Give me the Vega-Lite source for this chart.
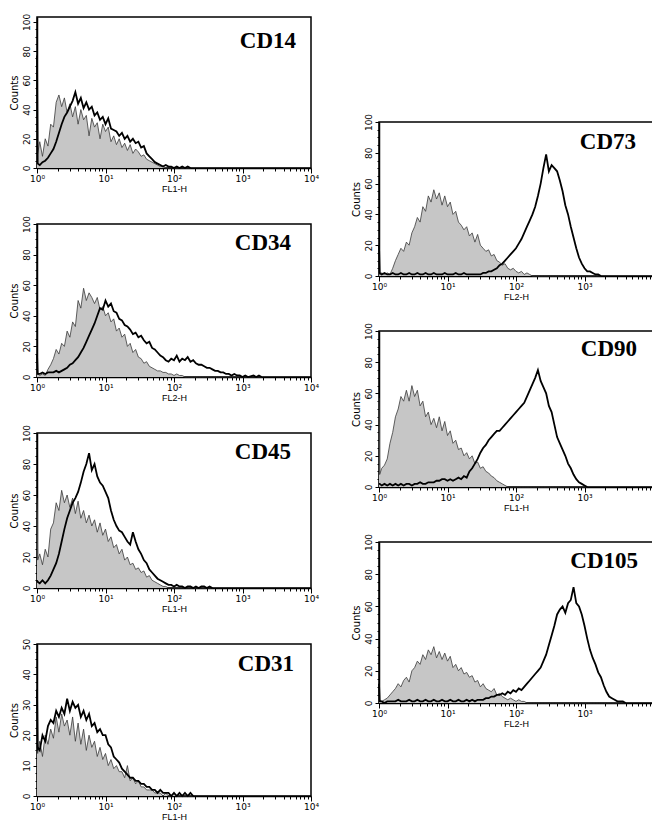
{
  "$schema": "https://vega.github.io/schema/vega-lite/v6.json",
  "padding": {"left": 8, "top": 12, "right": 0, "bottom": 0},
  "background": "white",
  "config": {
    "view": {"stroke": "black", "strokeWidth": 1.5},
    "axis": {"grid": false, "domainColor": "black", "domainWidth": 1.5, "tickColor": "black", "tickWidth": 1, "labelColor": "black", "titleColor": "black", "labelOverlap": false, "labelFlush": false, "titleFontWeight": "normal"},
    "axisX": {"labelFont": "DejaVu Sans", "labelFontSize": 9, "labelPadding": 1, "titleFont": "Liberation Sans", "titleFontSize": 9, "titlePadding": 1},
    "axisY": {"labelFont": "DejaVu Sans", "labelFontSize": 9, "labelAngle": -90, "labelPadding": 2, "titleFont": "DejaVu Sans", "titleFontSize": 10, "titlePadding": 3},
    "title": {"font": "Liberation Serif", "fontSize": 23, "fontWeight": "bold", "color": "black", "anchor": "end", "frame": "group", "baseline": "alphabetic", "offset": -40}
  },
  "datasets": {
    "cd14": [{"d":0,"c":12,"t":77},{"d":0.01,"c":10,"t":3},{"d":0.04,"c":18,"t":2},{"d":0.08,"c":8,"t":4},{"d":0.12,"c":20,"t":5},{"d":0.16,"c":15,"t":7},{"d":0.2,"c":30,"t":10},{"d":0.24,"c":28,"t":13},{"d":0.28,"c":45,"t":18},{"d":0.32,"c":50,"t":24},{"d":0.36,"c":42,"t":30},{"d":0.4,"c":48,"t":35},{"d":0.44,"c":38,"t":38},{"d":0.48,"c":44,"t":42},{"d":0.52,"c":35,"t":46},{"d":0.56,"c":42,"t":52},{"d":0.6,"c":30,"t":44},{"d":0.64,"c":40,"t":48},{"d":0.68,"c":33,"t":41},{"d":0.72,"c":36,"t":45},{"d":0.76,"c":22,"t":40},{"d":0.8,"c":34,"t":42},{"d":0.84,"c":28,"t":36},{"d":0.88,"c":31,"t":38},{"d":0.92,"c":20,"t":33},{"d":0.96,"c":30,"t":35},{"d":1,"c":25,"t":30},{"d":1.04,"c":28,"t":34},{"d":1.08,"c":18,"t":27},{"d":1.12,"c":22,"t":26},{"d":1.16,"c":16,"t":25},{"d":1.2,"c":20,"t":22},{"d":1.24,"c":14,"t":24},{"d":1.28,"c":17,"t":20},{"d":1.32,"c":12,"t":22},{"d":1.36,"c":16,"t":18},{"d":1.4,"c":10,"t":20},{"d":1.44,"c":13,"t":17},{"d":1.48,"c":11,"t":18},{"d":1.52,"c":8,"t":14},{"d":1.56,"c":9,"t":15},{"d":1.6,"c":6,"t":10},{"d":1.64,"c":5,"t":8},{"d":1.68,"c":4,"t":6},{"d":1.72,"c":3,"t":4},{"d":1.76,"c":2,"t":3},{"d":1.8,"c":1,"t":2},{"d":1.84,"c":1,"t":1},{"d":1.88,"c":0,"t":2},{"d":1.92,"c":0,"t":1},{"d":1.96,"c":0,"t":1},{"d":2,"c":0,"t":0},{"d":2.04,"c":0,"t":1},{"d":2.08,"c":0,"t":0},{"d":2.12,"c":0,"t":1},{"d":2.16,"c":0,"t":0},{"d":2.2,"c":0,"t":1},{"d":2.24,"c":0,"t":0}],
    "cd34": [{"d":0,"c":2,"t":15},{"d":0.01,"c":2,"t":2},{"d":0.04,"c":1,"t":2},{"d":0.08,"c":2,"t":3},{"d":0.12,"c":1,"t":2},{"d":0.16,"c":5,"t":3},{"d":0.2,"c":8,"t":3},{"d":0.24,"c":12,"t":3},{"d":0.28,"c":18,"t":4},{"d":0.32,"c":15,"t":3},{"d":0.36,"c":22,"t":4},{"d":0.4,"c":20,"t":5},{"d":0.44,"c":30,"t":6},{"d":0.48,"c":26,"t":8},{"d":0.52,"c":36,"t":9},{"d":0.56,"c":33,"t":11},{"d":0.6,"c":50,"t":13},{"d":0.64,"c":45,"t":16},{"d":0.68,"c":58,"t":19},{"d":0.72,"c":50,"t":23},{"d":0.76,"c":55,"t":27},{"d":0.8,"c":52,"t":31},{"d":0.84,"c":48,"t":35},{"d":0.88,"c":52,"t":40},{"d":0.92,"c":44,"t":45},{"d":0.96,"c":46,"t":44},{"d":1,"c":40,"t":50},{"d":1.04,"c":42,"t":46},{"d":1.08,"c":36,"t":48},{"d":1.12,"c":38,"t":43},{"d":1.16,"c":30,"t":42},{"d":1.2,"c":32,"t":38},{"d":1.24,"c":26,"t":37},{"d":1.28,"c":28,"t":34},{"d":1.32,"c":20,"t":33},{"d":1.36,"c":22,"t":31},{"d":1.4,"c":16,"t":28},{"d":1.44,"c":18,"t":29},{"d":1.48,"c":13,"t":26},{"d":1.52,"c":12,"t":27},{"d":1.56,"c":9,"t":24},{"d":1.6,"c":10,"t":22},{"d":1.64,"c":7,"t":23},{"d":1.68,"c":6,"t":19},{"d":1.72,"c":5,"t":18},{"d":1.76,"c":4,"t":16},{"d":1.8,"c":4,"t":14},{"d":1.84,"c":3,"t":13},{"d":1.88,"c":3,"t":11},{"d":1.92,"c":2,"t":10},{"d":1.96,"c":2,"t":12},{"d":2,"c":1,"t":11},{"d":2.04,"c":2,"t":14},{"d":2.08,"c":1,"t":10},{"d":2.12,"c":1,"t":12},{"d":2.16,"c":0,"t":11},{"d":2.2,"c":0,"t":13},{"d":2.24,"c":0,"t":10},{"d":2.28,"c":0,"t":11},{"d":2.32,"c":0,"t":9},{"d":2.36,"c":0,"t":8},{"d":2.4,"c":0,"t":8},{"d":2.44,"c":0,"t":7},{"d":2.48,"c":0,"t":6},{"d":2.52,"c":0,"t":6},{"d":2.56,"c":0,"t":5},{"d":2.6,"c":0,"t":4},{"d":2.64,"c":0,"t":4},{"d":2.68,"c":0,"t":3},{"d":2.72,"c":0,"t":3},{"d":2.76,"c":0,"t":2},{"d":2.8,"c":0,"t":2},{"d":2.84,"c":0,"t":1},{"d":2.88,"c":0,"t":2},{"d":2.92,"c":0,"t":1},{"d":2.96,"c":0,"t":1},{"d":3,"c":0,"t":0},{"d":3.04,"c":0,"t":1},{"d":3.08,"c":0,"t":0},{"d":3.16,"c":0,"t":1},{"d":3.2,"c":0,"t":0},{"d":3.24,"c":0,"t":1},{"d":3.28,"c":0,"t":0}],
    "cd45": [{"d":0,"c":58,"t":5},{"d":0.01,"c":18,"t":4},{"d":0.04,"c":22,"t":3},{"d":0.08,"c":15,"t":5},{"d":0.12,"c":25,"t":3},{"d":0.16,"c":20,"t":5},{"d":0.2,"c":38,"t":8},{"d":0.24,"c":42,"t":12},{"d":0.28,"c":55,"t":16},{"d":0.32,"c":50,"t":22},{"d":0.36,"c":63,"t":30},{"d":0.4,"c":55,"t":38},{"d":0.44,"c":60,"t":45},{"d":0.48,"c":52,"t":50},{"d":0.52,"c":58,"t":55},{"d":0.56,"c":48,"t":58},{"d":0.6,"c":56,"t":62},{"d":0.64,"c":45,"t":68},{"d":0.68,"c":50,"t":75},{"d":0.72,"c":42,"t":80},{"d":0.76,"c":47,"t":87},{"d":0.8,"c":40,"t":76},{"d":0.84,"c":44,"t":80},{"d":0.88,"c":36,"t":72},{"d":0.92,"c":42,"t":68},{"d":0.96,"c":34,"t":66},{"d":1,"c":38,"t":62},{"d":1.04,"c":30,"t":58},{"d":1.08,"c":33,"t":50},{"d":1.12,"c":26,"t":44},{"d":1.16,"c":28,"t":40},{"d":1.2,"c":22,"t":37},{"d":1.24,"c":25,"t":36},{"d":1.28,"c":18,"t":33},{"d":1.32,"c":20,"t":30},{"d":1.36,"c":15,"t":28},{"d":1.4,"c":16,"t":36},{"d":1.44,"c":12,"t":30},{"d":1.48,"c":13,"t":25},{"d":1.52,"c":10,"t":22},{"d":1.56,"c":11,"t":18},{"d":1.6,"c":7,"t":16},{"d":1.64,"c":8,"t":12},{"d":1.68,"c":5,"t":10},{"d":1.72,"c":4,"t":8},{"d":1.76,"c":3,"t":6},{"d":1.8,"c":2,"t":5},{"d":1.84,"c":1,"t":4},{"d":1.88,"c":1,"t":3},{"d":1.92,"c":0,"t":2},{"d":1.96,"c":0,"t":2},{"d":2,"c":0,"t":1},{"d":2.04,"c":0,"t":2},{"d":2.08,"c":0,"t":1},{"d":2.12,"c":0,"t":1},{"d":2.16,"c":0,"t":0},{"d":2.2,"c":0,"t":1},{"d":2.24,"c":0,"t":1},{"d":2.28,"c":0,"t":0},{"d":2.32,"c":0,"t":1},{"d":2.36,"c":0,"t":0},{"d":2.4,"c":0,"t":1},{"d":2.44,"c":0,"t":1},{"d":2.48,"c":0,"t":0},{"d":2.52,"c":0,"t":1},{"d":2.56,"c":0,"t":0}],
    "cd31": [{"d":0,"c":15,"t":35},{"d":0.01,"c":14,"t":16},{"d":0.04,"c":18,"t":15},{"d":0.08,"c":13,"t":20},{"d":0.12,"c":20,"t":18},{"d":0.16,"c":17,"t":23},{"d":0.2,"c":22,"t":25},{"d":0.24,"c":19,"t":24},{"d":0.28,"c":26,"t":28},{"d":0.32,"c":21,"t":26},{"d":0.36,"c":27,"t":29},{"d":0.4,"c":23,"t":27},{"d":0.44,"c":25,"t":32},{"d":0.48,"c":20,"t":28},{"d":0.52,"c":26,"t":31},{"d":0.56,"c":18,"t":29},{"d":0.6,"c":24,"t":30},{"d":0.64,"c":17,"t":26},{"d":0.68,"c":22,"t":28},{"d":0.72,"c":15,"t":25},{"d":0.76,"c":20,"t":27},{"d":0.8,"c":16,"t":23},{"d":0.84,"c":18,"t":24},{"d":0.88,"c":13,"t":21},{"d":0.92,"c":16,"t":22},{"d":0.96,"c":12,"t":20},{"d":1,"c":14,"t":20},{"d":1.04,"c":10,"t":17},{"d":1.08,"c":12,"t":16},{"d":1.12,"c":9,"t":13},{"d":1.16,"c":10,"t":12},{"d":1.2,"c":8,"t":11},{"d":1.24,"c":8,"t":9},{"d":1.28,"c":6,"t":8},{"d":1.32,"c":10,"t":7},{"d":1.36,"c":5,"t":6},{"d":1.4,"c":6,"t":6},{"d":1.44,"c":4,"t":5},{"d":1.48,"c":5,"t":5},{"d":1.52,"c":3,"t":4},{"d":1.56,"c":3,"t":4},{"d":1.6,"c":2,"t":3},{"d":1.64,"c":2,"t":3},{"d":1.68,"c":2,"t":2},{"d":1.72,"c":1,"t":2},{"d":1.76,"c":1,"t":1},{"d":1.8,"c":1,"t":2},{"d":1.84,"c":0,"t":1},{"d":1.88,"c":1,"t":1},{"d":1.92,"c":0,"t":1},{"d":1.96,"c":0,"t":0},{"d":2,"c":1,"t":1},{"d":2.04,"c":0,"t":0},{"d":2.08,"c":0,"t":1},{"d":2.12,"c":0,"t":0},{"d":2.16,"c":0,"t":1},{"d":2.2,"c":0,"t":0},{"d":2.24,"c":0,"t":1},{"d":2.28,"c":0,"t":0}],
    "cd73": [{"d":0,"c":2,"t":20},{"d":0.01,"c":1,"t":2},{"d":0.04,"c":2,"t":1},{"d":0.08,"c":1,"t":2},{"d":0.12,"c":2,"t":1},{"d":0.16,"c":1,"t":1},{"d":0.2,"c":5,"t":2},{"d":0.24,"c":10,"t":1},{"d":0.28,"c":14,"t":1},{"d":0.32,"c":18,"t":2},{"d":0.36,"c":16,"t":1},{"d":0.4,"c":22,"t":1},{"d":0.44,"c":20,"t":2},{"d":0.48,"c":28,"t":1},{"d":0.52,"c":32,"t":1},{"d":0.56,"c":38,"t":2},{"d":0.6,"c":35,"t":1},{"d":0.64,"c":45,"t":1},{"d":0.68,"c":42,"t":2},{"d":0.72,"c":52,"t":1},{"d":0.76,"c":48,"t":1},{"d":0.8,"c":56,"t":2},{"d":0.84,"c":50,"t":1},{"d":0.88,"c":54,"t":1},{"d":0.92,"c":46,"t":1},{"d":0.96,"c":52,"t":2},{"d":1,"c":45,"t":1},{"d":1.04,"c":48,"t":1},{"d":1.08,"c":40,"t":1},{"d":1.12,"c":42,"t":2},{"d":1.16,"c":35,"t":1},{"d":1.2,"c":33,"t":1},{"d":1.24,"c":30,"t":2},{"d":1.28,"c":32,"t":1},{"d":1.32,"c":26,"t":1},{"d":1.36,"c":28,"t":1},{"d":1.4,"c":22,"t":1},{"d":1.44,"c":27,"t":1},{"d":1.48,"c":20,"t":1},{"d":1.52,"c":18,"t":2},{"d":1.56,"c":16,"t":2},{"d":1.6,"c":17,"t":3},{"d":1.64,"c":13,"t":3},{"d":1.68,"c":14,"t":4},{"d":1.72,"c":10,"t":5},{"d":1.76,"c":9,"t":7},{"d":1.8,"c":7,"t":8},{"d":1.84,"c":8,"t":10},{"d":1.88,"c":5,"t":12},{"d":1.92,"c":4,"t":14},{"d":1.96,"c":5,"t":16},{"d":2,"c":3,"t":18},{"d":2.04,"c":2,"t":21},{"d":2.08,"c":3,"t":24},{"d":2.12,"c":1,"t":28},{"d":2.16,"c":2,"t":32},{"d":2.2,"c":1,"t":36},{"d":2.24,"c":0,"t":40},{"d":2.28,"c":0,"t":45},{"d":2.32,"c":0,"t":52},{"d":2.36,"c":0,"t":60},{"d":2.4,"c":0,"t":70},{"d":2.44,"c":0,"t":79},{"d":2.48,"c":0,"t":68},{"d":2.52,"c":0,"t":72},{"d":2.56,"c":0,"t":70},{"d":2.6,"c":0,"t":68},{"d":2.64,"c":0,"t":62},{"d":2.68,"c":0,"t":55},{"d":2.72,"c":0,"t":46},{"d":2.76,"c":0,"t":40},{"d":2.8,"c":0,"t":32},{"d":2.84,"c":0,"t":25},{"d":2.88,"c":0,"t":18},{"d":2.92,"c":0,"t":12},{"d":2.96,"c":0,"t":8},{"d":3,"c":0,"t":5},{"d":3.04,"c":0,"t":3},{"d":3.08,"c":0,"t":3},{"d":3.12,"c":0,"t":2},{"d":3.16,"c":0,"t":1},{"d":3.2,"c":0,"t":1},{"d":3.24,"c":0,"t":0}],
    "cd90": [{"d":0,"c":57,"t":2},{"d":0.01,"c":8,"t":2},{"d":0.04,"c":12,"t":1},{"d":0.08,"c":14,"t":2},{"d":0.12,"c":18,"t":1},{"d":0.16,"c":28,"t":2},{"d":0.2,"c":35,"t":1},{"d":0.24,"c":45,"t":2},{"d":0.28,"c":50,"t":1},{"d":0.32,"c":58,"t":2},{"d":0.36,"c":55,"t":1},{"d":0.4,"c":62,"t":2},{"d":0.44,"c":55,"t":2},{"d":0.48,"c":65,"t":1},{"d":0.52,"c":58,"t":2},{"d":0.56,"c":62,"t":2},{"d":0.6,"c":52,"t":3},{"d":0.64,"c":55,"t":2},{"d":0.68,"c":45,"t":2},{"d":0.72,"c":48,"t":3},{"d":0.76,"c":40,"t":3},{"d":0.8,"c":44,"t":3},{"d":0.84,"c":38,"t":4},{"d":0.88,"c":45,"t":4},{"d":0.92,"c":36,"t":5},{"d":0.96,"c":42,"t":5},{"d":1,"c":33,"t":4},{"d":1.04,"c":36,"t":5},{"d":1.08,"c":28,"t":4},{"d":1.12,"c":30,"t":5},{"d":1.16,"c":24,"t":6},{"d":1.2,"c":25,"t":5},{"d":1.24,"c":20,"t":7},{"d":1.28,"c":22,"t":6},{"d":1.32,"c":18,"t":10},{"d":1.36,"c":20,"t":12},{"d":1.4,"c":15,"t":15},{"d":1.44,"c":16,"t":18},{"d":1.48,"c":12,"t":22},{"d":1.52,"c":13,"t":25},{"d":1.56,"c":10,"t":27},{"d":1.6,"c":9,"t":30},{"d":1.64,"c":7,"t":32},{"d":1.68,"c":6,"t":34},{"d":1.72,"c":4,"t":36},{"d":1.76,"c":3,"t":36},{"d":1.8,"c":2,"t":38},{"d":1.84,"c":1,"t":40},{"d":1.88,"c":0,"t":42},{"d":1.92,"c":0,"t":44},{"d":1.96,"c":0,"t":46},{"d":2,"c":0,"t":48},{"d":2.04,"c":0,"t":50},{"d":2.08,"c":0,"t":52},{"d":2.12,"c":0,"t":54},{"d":2.16,"c":0,"t":58},{"d":2.2,"c":0,"t":62},{"d":2.24,"c":0,"t":66},{"d":2.28,"c":0,"t":70},{"d":2.32,"c":0,"t":75},{"d":2.36,"c":0,"t":68},{"d":2.4,"c":0,"t":64},{"d":2.44,"c":0,"t":60},{"d":2.48,"c":0,"t":52},{"d":2.52,"c":0,"t":48},{"d":2.56,"c":0,"t":40},{"d":2.6,"c":0,"t":32},{"d":2.64,"c":0,"t":28},{"d":2.68,"c":0,"t":24},{"d":2.72,"c":0,"t":20},{"d":2.76,"c":0,"t":15},{"d":2.8,"c":0,"t":12},{"d":2.84,"c":0,"t":8},{"d":2.88,"c":0,"t":5},{"d":2.92,"c":0,"t":3},{"d":2.96,"c":0,"t":2},{"d":3,"c":0,"t":1},{"d":3.04,"c":0,"t":0}],
    "cd105": [{"d":0,"c":2,"t":12},{"d":0.01,"c":2,"t":1},{"d":0.04,"c":1,"t":1},{"d":0.08,"c":2,"t":0},{"d":0.12,"c":3,"t":1},{"d":0.16,"c":5,"t":1},{"d":0.2,"c":7,"t":1},{"d":0.24,"c":9,"t":1},{"d":0.28,"c":12,"t":2},{"d":0.32,"c":10,"t":1},{"d":0.36,"c":14,"t":1},{"d":0.4,"c":16,"t":1},{"d":0.44,"c":13,"t":2},{"d":0.48,"c":20,"t":1},{"d":0.52,"c":22,"t":1},{"d":0.56,"c":26,"t":2},{"d":0.6,"c":24,"t":1},{"d":0.64,"c":30,"t":1},{"d":0.68,"c":27,"t":2},{"d":0.72,"c":33,"t":1},{"d":0.76,"c":30,"t":1},{"d":0.8,"c":35,"t":2},{"d":0.84,"c":28,"t":1},{"d":0.88,"c":32,"t":1},{"d":0.92,"c":27,"t":2},{"d":0.96,"c":31,"t":1},{"d":1,"c":26,"t":1},{"d":1.04,"c":29,"t":2},{"d":1.08,"c":22,"t":1},{"d":1.12,"c":24,"t":1},{"d":1.16,"c":20,"t":2},{"d":1.2,"c":22,"t":1},{"d":1.24,"c":18,"t":1},{"d":1.28,"c":19,"t":2},{"d":1.32,"c":16,"t":1},{"d":1.36,"c":17,"t":2},{"d":1.4,"c":13,"t":1},{"d":1.44,"c":14,"t":2},{"d":1.48,"c":10,"t":2},{"d":1.52,"c":12,"t":2},{"d":1.56,"c":9,"t":3},{"d":1.6,"c":8,"t":3},{"d":1.64,"c":7,"t":4},{"d":1.68,"c":9,"t":4},{"d":1.72,"c":5,"t":5},{"d":1.76,"c":6,"t":5},{"d":1.8,"c":4,"t":6},{"d":1.84,"c":3,"t":5},{"d":1.88,"c":2,"t":7},{"d":1.92,"c":3,"t":6},{"d":1.96,"c":2,"t":8},{"d":2,"c":1,"t":7},{"d":2.04,"c":2,"t":9},{"d":2.08,"c":1,"t":8},{"d":2.12,"c":1,"t":10},{"d":2.16,"c":0,"t":12},{"d":2.2,"c":0,"t":14},{"d":2.24,"c":0,"t":16},{"d":2.28,"c":0,"t":18},{"d":2.32,"c":0,"t":20},{"d":2.36,"c":0,"t":22},{"d":2.4,"c":0,"t":26},{"d":2.44,"c":0,"t":30},{"d":2.48,"c":0,"t":36},{"d":2.52,"c":0,"t":42},{"d":2.56,"c":0,"t":48},{"d":2.6,"c":0,"t":55},{"d":2.64,"c":0,"t":58},{"d":2.68,"c":0,"t":60},{"d":2.72,"c":0,"t":56},{"d":2.76,"c":0,"t":62},{"d":2.8,"c":0,"t":64},{"d":2.84,"c":0,"t":72},{"d":2.88,"c":0,"t":62},{"d":2.92,"c":0,"t":60},{"d":2.96,"c":0,"t":55},{"d":3,"c":0,"t":48},{"d":3.04,"c":0,"t":40},{"d":3.08,"c":0,"t":33},{"d":3.12,"c":0,"t":28},{"d":3.16,"c":0,"t":24},{"d":3.2,"c":0,"t":19},{"d":3.24,"c":0,"t":16},{"d":3.28,"c":0,"t":11},{"d":3.32,"c":0,"t":7},{"d":3.36,"c":0,"t":4},{"d":3.4,"c":0,"t":3},{"d":3.44,"c":0,"t":2},{"d":3.48,"c":0,"t":1},{"d":3.52,"c":0,"t":1},{"d":3.56,"c":0,"t":1},{"d":3.6,"c":0,"t":0}]
  },
  "spacing": 30,
  "hconcat": [
    {
      "bounds": "flush",
      "spacing": 56,
      "vconcat": [
        {
          "width": 274, "height": 151,
          "data": {"name": "cd14"},
          "title": {"text": "CD14", "dx": -15, "offset": -40},
          "encoding": {"x": {"field": "d", "type": "quantitative", "scale": {"domain": [0, 4], "nice": false}, "axis": {"title": "FL1-H", "tickCount": 200, "values": [0,0.301,0.477,0.602,0.699,0.778,0.845,0.903,0.954,1,1.301,1.477,1.602,1.699,1.778,1.845,1.903,1.954,2,2.301,2.477,2.602,2.699,2.778,2.845,2.903,2.954,3,3.301,3.477,3.602,3.699,3.778,3.845,3.903,3.954,4], "labelExpr": "datum.value % 1 === 0 ? '10' + ['⁰','¹','²','³','⁴'][datum.value] : ''", "tickSize": {"condition": {"test": "datum.value % 1 === 0", "value": 5}, "value": 3}}}},
          "layer": [
            {"mark": {"type": "area", "color": "#c6c6c6"}, "encoding": {"y": {"field": "c", "type": "quantitative", "title": "Counts", "scale": {"domain": [0, 103.4], "nice": false}, "axis": {"tickCount": 200, "values": [0,5,10,15,20,25,30,35,40,45,50,55,60,65,70,75,80,85,90,95,100], "labelExpr": "datum.value % 20 === 0 ? format(datum.value, 'd') : ''", "tickSize": {"condition": {"test": "datum.value % 20 === 0", "value": 4}, "value": 2}}}}},
            {"mark": {"type": "line", "color": "#3a3a3a", "strokeWidth": 0.8}, "encoding": {"y": {"field": "c", "type": "quantitative", "title": "Counts"}}},
            {"mark": {"type": "line", "color": "black", "strokeWidth": 1.8}, "encoding": {"y": {"field": "t", "type": "quantitative", "title": "Counts"}}}
          ]
        },
        {
          "width": 274, "height": 153,
          "data": {"name": "cd34"},
          "title": {"text": "CD34", "dx": -20},
          "encoding": {"x": {"field": "d", "type": "quantitative", "scale": {"domain": [0, 4], "nice": false}, "axis": {"title": "FL2-H", "tickCount": 200, "values": [0,0.301,0.477,0.602,0.699,0.778,0.845,0.903,0.954,1,1.301,1.477,1.602,1.699,1.778,1.845,1.903,1.954,2,2.301,2.477,2.602,2.699,2.778,2.845,2.903,2.954,3,3.301,3.477,3.602,3.699,3.778,3.845,3.903,3.954,4], "labelExpr": "datum.value % 1 === 0 ? '10' + ['⁰','¹','²','³','⁴'][datum.value] : ''", "tickSize": {"condition": {"test": "datum.value % 1 === 0", "value": 5}, "value": 3}}}},
          "layer": [
            {"mark": {"type": "area", "color": "#c6c6c6"}, "encoding": {"y": {"field": "c", "type": "quantitative", "title": "Counts", "scale": {"domain": [0, 100], "nice": false}, "axis": {"tickCount": 200, "values": [0,5,10,15,20,25,30,35,40,45,50,55,60,65,70,75,80,85,90,95,100], "labelExpr": "datum.value % 20 === 0 ? format(datum.value, 'd') : ''", "tickSize": {"condition": {"test": "datum.value % 20 === 0", "value": 4}, "value": 2}}}}},
            {"mark": {"type": "line", "color": "#3a3a3a", "strokeWidth": 0.8}, "encoding": {"y": {"field": "c", "type": "quantitative", "title": "Counts"}}},
            {"mark": {"type": "line", "color": "black", "strokeWidth": 1.8}, "encoding": {"y": {"field": "t", "type": "quantitative", "title": "Counts"}}}
          ]
        },
        {
          "width": 274, "height": 155,
          "data": {"name": "cd45"},
          "title": {"text": "CD45", "dx": -20},
          "encoding": {"x": {"field": "d", "type": "quantitative", "scale": {"domain": [0, 4], "nice": false}, "axis": {"title": "FL1-H", "tickCount": 200, "values": [0,0.301,0.477,0.602,0.699,0.778,0.845,0.903,0.954,1,1.301,1.477,1.602,1.699,1.778,1.845,1.903,1.954,2,2.301,2.477,2.602,2.699,2.778,2.845,2.903,2.954,3,3.301,3.477,3.602,3.699,3.778,3.845,3.903,3.954,4], "labelExpr": "datum.value % 1 === 0 ? '10' + ['⁰','¹','²','³','⁴'][datum.value] : ''", "tickSize": {"condition": {"test": "datum.value % 1 === 0", "value": 5}, "value": 3}}}},
          "layer": [
            {"mark": {"type": "area", "color": "#c6c6c6"}, "encoding": {"y": {"field": "c", "type": "quantitative", "title": "Counts", "scale": {"domain": [0, 100], "nice": false}, "axis": {"tickCount": 200, "values": [0,5,10,15,20,25,30,35,40,45,50,55,60,65,70,75,80,85,90,95,100], "labelExpr": "datum.value % 20 === 0 ? format(datum.value, 'd') : ''", "tickSize": {"condition": {"test": "datum.value % 20 === 0", "value": 4}, "value": 2}}}}},
            {"mark": {"type": "line", "color": "#3a3a3a", "strokeWidth": 0.8}, "encoding": {"y": {"field": "c", "type": "quantitative", "title": "Counts"}}},
            {"mark": {"type": "line", "color": "black", "strokeWidth": 1.8}, "encoding": {"y": {"field": "t", "type": "quantitative", "title": "Counts"}}}
          ]
        },
        {
          "width": 274, "height": 152,
          "data": {"name": "cd31"},
          "title": {"text": "CD31", "dx": -17, "offset": -38},
          "encoding": {"x": {"field": "d", "type": "quantitative", "scale": {"domain": [0, 4], "nice": false}, "axis": {"title": "FL1-H", "tickCount": 200, "values": [0,0.301,0.477,0.602,0.699,0.778,0.845,0.903,0.954,1,1.301,1.477,1.602,1.699,1.778,1.845,1.903,1.954,2,2.301,2.477,2.602,2.699,2.778,2.845,2.903,2.954,3,3.301,3.477,3.602,3.699,3.778,3.845,3.903,3.954,4], "labelExpr": "datum.value % 1 === 0 ? '10' + ['⁰','¹','²','³','⁴'][datum.value] : ''", "tickSize": {"condition": {"test": "datum.value % 1 === 0", "value": 5}, "value": 3}}}},
          "layer": [
            {"mark": {"type": "area", "color": "#c6c6c6"}, "encoding": {"y": {"field": "c", "type": "quantitative", "title": "Counts", "scale": {"domain": [0, 50], "nice": false}, "axis": {"tickCount": 200, "values": [0,2.5,5,7.5,10,12.5,15,17.5,20,22.5,25,27.5,30,32.5,35,37.5,40,42.5,45,47.5,50], "labelExpr": "datum.value % 10 === 0 ? format(datum.value, 'd') : ''", "tickSize": {"condition": {"test": "datum.value % 10 === 0", "value": 4}, "value": 2}}}}},
            {"mark": {"type": "line", "color": "#3a3a3a", "strokeWidth": 0.8}, "encoding": {"y": {"field": "c", "type": "quantitative", "title": "Counts"}}},
            {"mark": {"type": "line", "color": "black", "strokeWidth": 1.8}, "encoding": {"y": {"field": "t", "type": "quantitative", "title": "Counts"}}}
          ]
        }
      ]
    },
    {
      "bounds": "flush",
      "spacing": 55,
      "vconcat": [
        {"width": 274, "height": 50, "data": {"values": []}, "mark": "point", "view": {"stroke": null}},
        {
          "width": 274, "height": 154,
          "data": {"name": "cd73"},
          "title": {"text": "CD73", "dx": -17, "offset": -41},
          "encoding": {"x": {"field": "d", "type": "quantitative", "scale": {"domain": [0, 4], "nice": false}, "axis": {"title": "FL2-H", "tickCount": 200, "values": [0,0.301,0.477,0.602,0.699,0.778,0.845,0.903,0.954,1,1.301,1.477,1.602,1.699,1.778,1.845,1.903,1.954,2,2.301,2.477,2.602,2.699,2.778,2.845,2.903,2.954,3,3.301,3.477,3.602,3.699,3.778,3.845,3.903,3.954], "labelExpr": "datum.value % 1 === 0 ? '10' + ['⁰','¹','²','³','⁴'][datum.value] : ''", "tickSize": {"condition": {"test": "datum.value % 1 === 0", "value": 5}, "value": 3}}}},
          "layer": [
            {"mark": {"type": "area", "color": "#c6c6c6"}, "encoding": {"y": {"field": "c", "type": "quantitative", "title": "Counts", "scale": {"domain": [0, 100], "nice": false}, "axis": {"tickCount": 200, "values": [0,5,10,15,20,25,30,35,40,45,50,55,60,65,70,75,80,85,90,95,100], "labelExpr": "datum.value % 20 === 0 ? format(datum.value, 'd') : ''", "tickSize": {"condition": {"test": "datum.value % 20 === 0", "value": 4}, "value": 2}}}}},
            {"mark": {"type": "line", "color": "#3a3a3a", "strokeWidth": 0.8}, "encoding": {"y": {"field": "c", "type": "quantitative", "title": "Counts"}}},
            {"mark": {"type": "line", "color": "black", "strokeWidth": 1.8}, "encoding": {"y": {"field": "t", "type": "quantitative", "title": "Counts"}}}
          ]
        },
        {
          "width": 274, "height": 156,
          "data": {"name": "cd90"},
          "title": {"text": "CD90", "dx": -16, "offset": -39},
          "encoding": {"x": {"field": "d", "type": "quantitative", "scale": {"domain": [0, 4], "nice": false}, "axis": {"title": "FL1-H", "tickCount": 200, "values": [0,0.301,0.477,0.602,0.699,0.778,0.845,0.903,0.954,1,1.301,1.477,1.602,1.699,1.778,1.845,1.903,1.954,2,2.301,2.477,2.602,2.699,2.778,2.845,2.903,2.954,3,3.301,3.477,3.602,3.699,3.778,3.845,3.903,3.954], "labelExpr": "datum.value % 1 === 0 ? '10' + ['⁰','¹','²','³','⁴'][datum.value] : ''", "tickSize": {"condition": {"test": "datum.value % 1 === 0", "value": 5}, "value": 3}}}},
          "layer": [
            {"mark": {"type": "area", "color": "#c6c6c6"}, "encoding": {"y": {"field": "c", "type": "quantitative", "title": "Counts", "scale": {"domain": [0, 100], "nice": false}, "axis": {"tickCount": 200, "values": [0,5,10,15,20,25,30,35,40,45,50,55,60,65,70,75,80,85,90,95,100], "labelExpr": "datum.value % 20 === 0 ? format(datum.value, 'd') : ''", "tickSize": {"condition": {"test": "datum.value % 20 === 0", "value": 4}, "value": 2}}}}},
            {"mark": {"type": "line", "color": "#3a3a3a", "strokeWidth": 0.8}, "encoding": {"y": {"field": "c", "type": "quantitative", "title": "Counts"}}},
            {"mark": {"type": "line", "color": "black", "strokeWidth": 1.8}, "encoding": {"y": {"field": "t", "type": "quantitative", "title": "Counts"}}}
          ]
        },
        {
          "width": 274, "height": 161,
          "data": {"name": "cd105"},
          "title": {"text": "CD105", "dx": -15, "offset": -40},
          "encoding": {"x": {"field": "d", "type": "quantitative", "scale": {"domain": [0, 4], "nice": false}, "axis": {"title": "FL2-H", "tickCount": 200, "values": [0,0.301,0.477,0.602,0.699,0.778,0.845,0.903,0.954,1,1.301,1.477,1.602,1.699,1.778,1.845,1.903,1.954,2,2.301,2.477,2.602,2.699,2.778,2.845,2.903,2.954,3,3.301,3.477,3.602,3.699,3.778,3.845,3.903,3.954], "labelExpr": "datum.value % 1 === 0 ? '10' + ['⁰','¹','²','³','⁴'][datum.value] : ''", "tickSize": {"condition": {"test": "datum.value % 1 === 0", "value": 5}, "value": 3}}}},
          "layer": [
            {"mark": {"type": "area", "color": "#c6c6c6"}, "encoding": {"y": {"field": "c", "type": "quantitative", "title": "Counts", "scale": {"domain": [0, 100], "nice": false}, "axis": {"tickCount": 200, "values": [0,5,10,15,20,25,30,35,40,45,50,55,60,65,70,75,80,85,90,95,100], "labelExpr": "datum.value % 20 === 0 ? format(datum.value, 'd') : ''", "tickSize": {"condition": {"test": "datum.value % 20 === 0", "value": 4}, "value": 2}}}}},
            {"mark": {"type": "line", "color": "#3a3a3a", "strokeWidth": 0.8}, "encoding": {"y": {"field": "c", "type": "quantitative", "title": "Counts"}}},
            {"mark": {"type": "line", "color": "black", "strokeWidth": 1.8}, "encoding": {"y": {"field": "t", "type": "quantitative", "title": "Counts"}}}
          ]
        }
      ]
    }
  ]
}
